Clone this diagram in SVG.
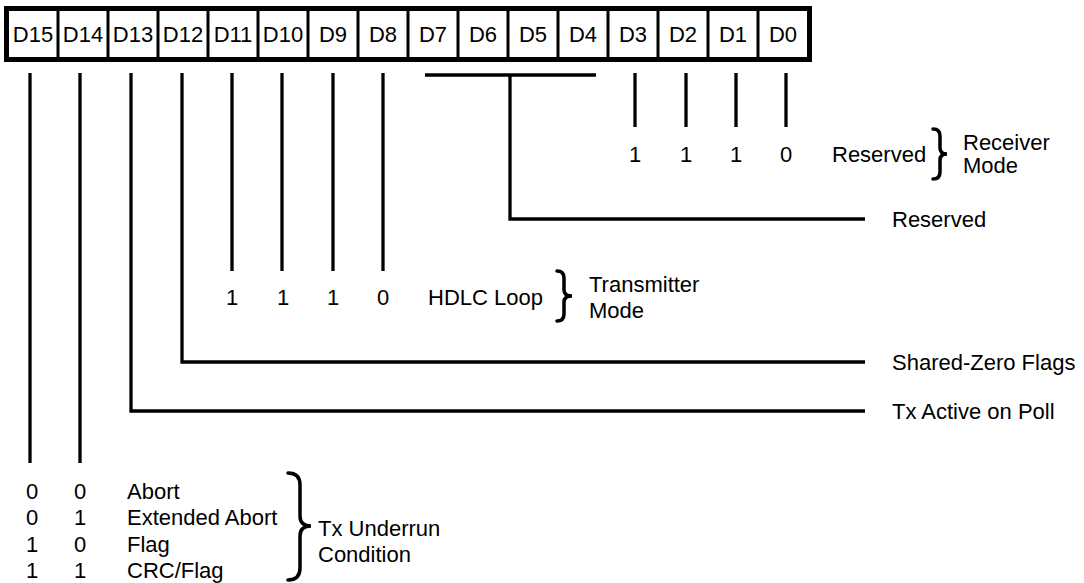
<svg xmlns="http://www.w3.org/2000/svg" width="1084" height="583" viewBox="0 0 1084 583">
<style>
text{font-family:"Liberation Sans",Arial,sans-serif;font-size:22px;fill:#000}
.c{text-anchor:middle}
.ln{stroke:#000;stroke-width:3.3;fill:none}
.dv{stroke:#000;stroke-width:3;fill:none}
.br{stroke:#000;stroke-width:3.5;fill:none;stroke-linecap:round}
</style>
<rect width="1084" height="583" fill="#fff"/>
<g id="register">
<rect x="6.5" y="8.5" width="803" height="51" fill="#fff" stroke="#000" stroke-width="5"/>
<path class="dv" d="M58 10V58M108 10V58M158 10V58M208 10V58M258 10V58M308 10V58M358 10V58M408 10V58M458 10V58M508 10V58M558 10V58M608 10V58M658 10V58M708 10V58M758 10V58"/>
<g class="c">
<text x="33" y="42">D15</text><text x="83" y="42">D14</text><text x="133" y="42">D13</text><text x="183" y="42">D12</text>
<text x="233" y="42">D11</text><text x="283" y="42">D10</text><text x="333" y="42">D9</text><text x="383" y="42">D8</text>
<text x="433" y="42">D7</text><text x="483" y="42">D6</text><text x="533" y="42">D5</text><text x="583" y="42">D4</text>
<text x="633" y="42">D3</text><text x="683" y="42">D2</text><text x="733" y="42">D1</text><text x="783" y="42">D0</text>
</g>
</g>
<g id="connectors">
<path class="ln" d="M30 73V463M80 73V463"/>
<path class="ln" d="M131 73V411H865"/>
<path class="ln" d="M182 73V362H865"/>
<path class="ln" d="M232 73V271M282 73V271M333 73V271M383 73V271"/>
<path class="ln" d="M425 75H596M510 75V219H865"/>
<path class="ln" d="M635 73V127M686 73V127M736 73V127M786 73V127"/>
</g>
<g id="receiver-mode">
<g class="c"><text x="635" y="162">1</text><text x="686" y="162">1</text><text x="736" y="162">1</text><text x="786" y="162">0</text></g>
<text x="832" y="162">Reserved</text>
<path class="br" d="M933 129Q940 129 940 136V148Q940 154 947 154Q940 154 940 160V172Q940 179 933 179"/>
<text x="963" y="150">Receiver</text>
<text x="963" y="173">Mode</text>
</g>
<g id="reserved-d7-d4"><text x="892" y="227">Reserved</text></g>
<g id="transmitter-mode">
<g class="c"><text x="232" y="305">1</text><text x="283" y="305">1</text><text x="333" y="305">1</text><text x="383" y="305">0</text></g>
<text x="428" y="305">HDLC Loop</text>
<path class="br" d="M557 271Q564 271 564 278V290Q564 296 572 296Q564 296 564 302V314Q564 321 557 321"/>
<text x="589" y="292">Transmitter</text>
<text x="589" y="318">Mode</text>
</g>
<g id="shared-zero"><text x="892" y="370">Shared-Zero Flags</text></g>
<g id="tx-active"><text x="892" y="419">Tx Active on Poll</text></g>
<g id="tx-underrun">
<g class="c">
<text x="32" y="499">0</text><text x="80" y="499">0</text>
<text x="32" y="525">0</text><text x="80" y="525">1</text>
<text x="32" y="552">1</text><text x="80" y="552">0</text>
<text x="32" y="578">1</text><text x="80" y="578">1</text>
</g>
<text x="127" y="499">Abort</text>
<text x="127" y="525">Extended Abort</text>
<text x="127" y="552">Flag</text>
<text x="127" y="578">CRC/Flag</text>
<path class="br" d="M288 473Q300 473 300 485V516Q300 526 311 526Q300 526 300 536V568Q300 580 288 580"/>
<text x="318" y="536">Tx Underrun</text>
<text x="318" y="562">Condition</text>
</g>
</svg>
